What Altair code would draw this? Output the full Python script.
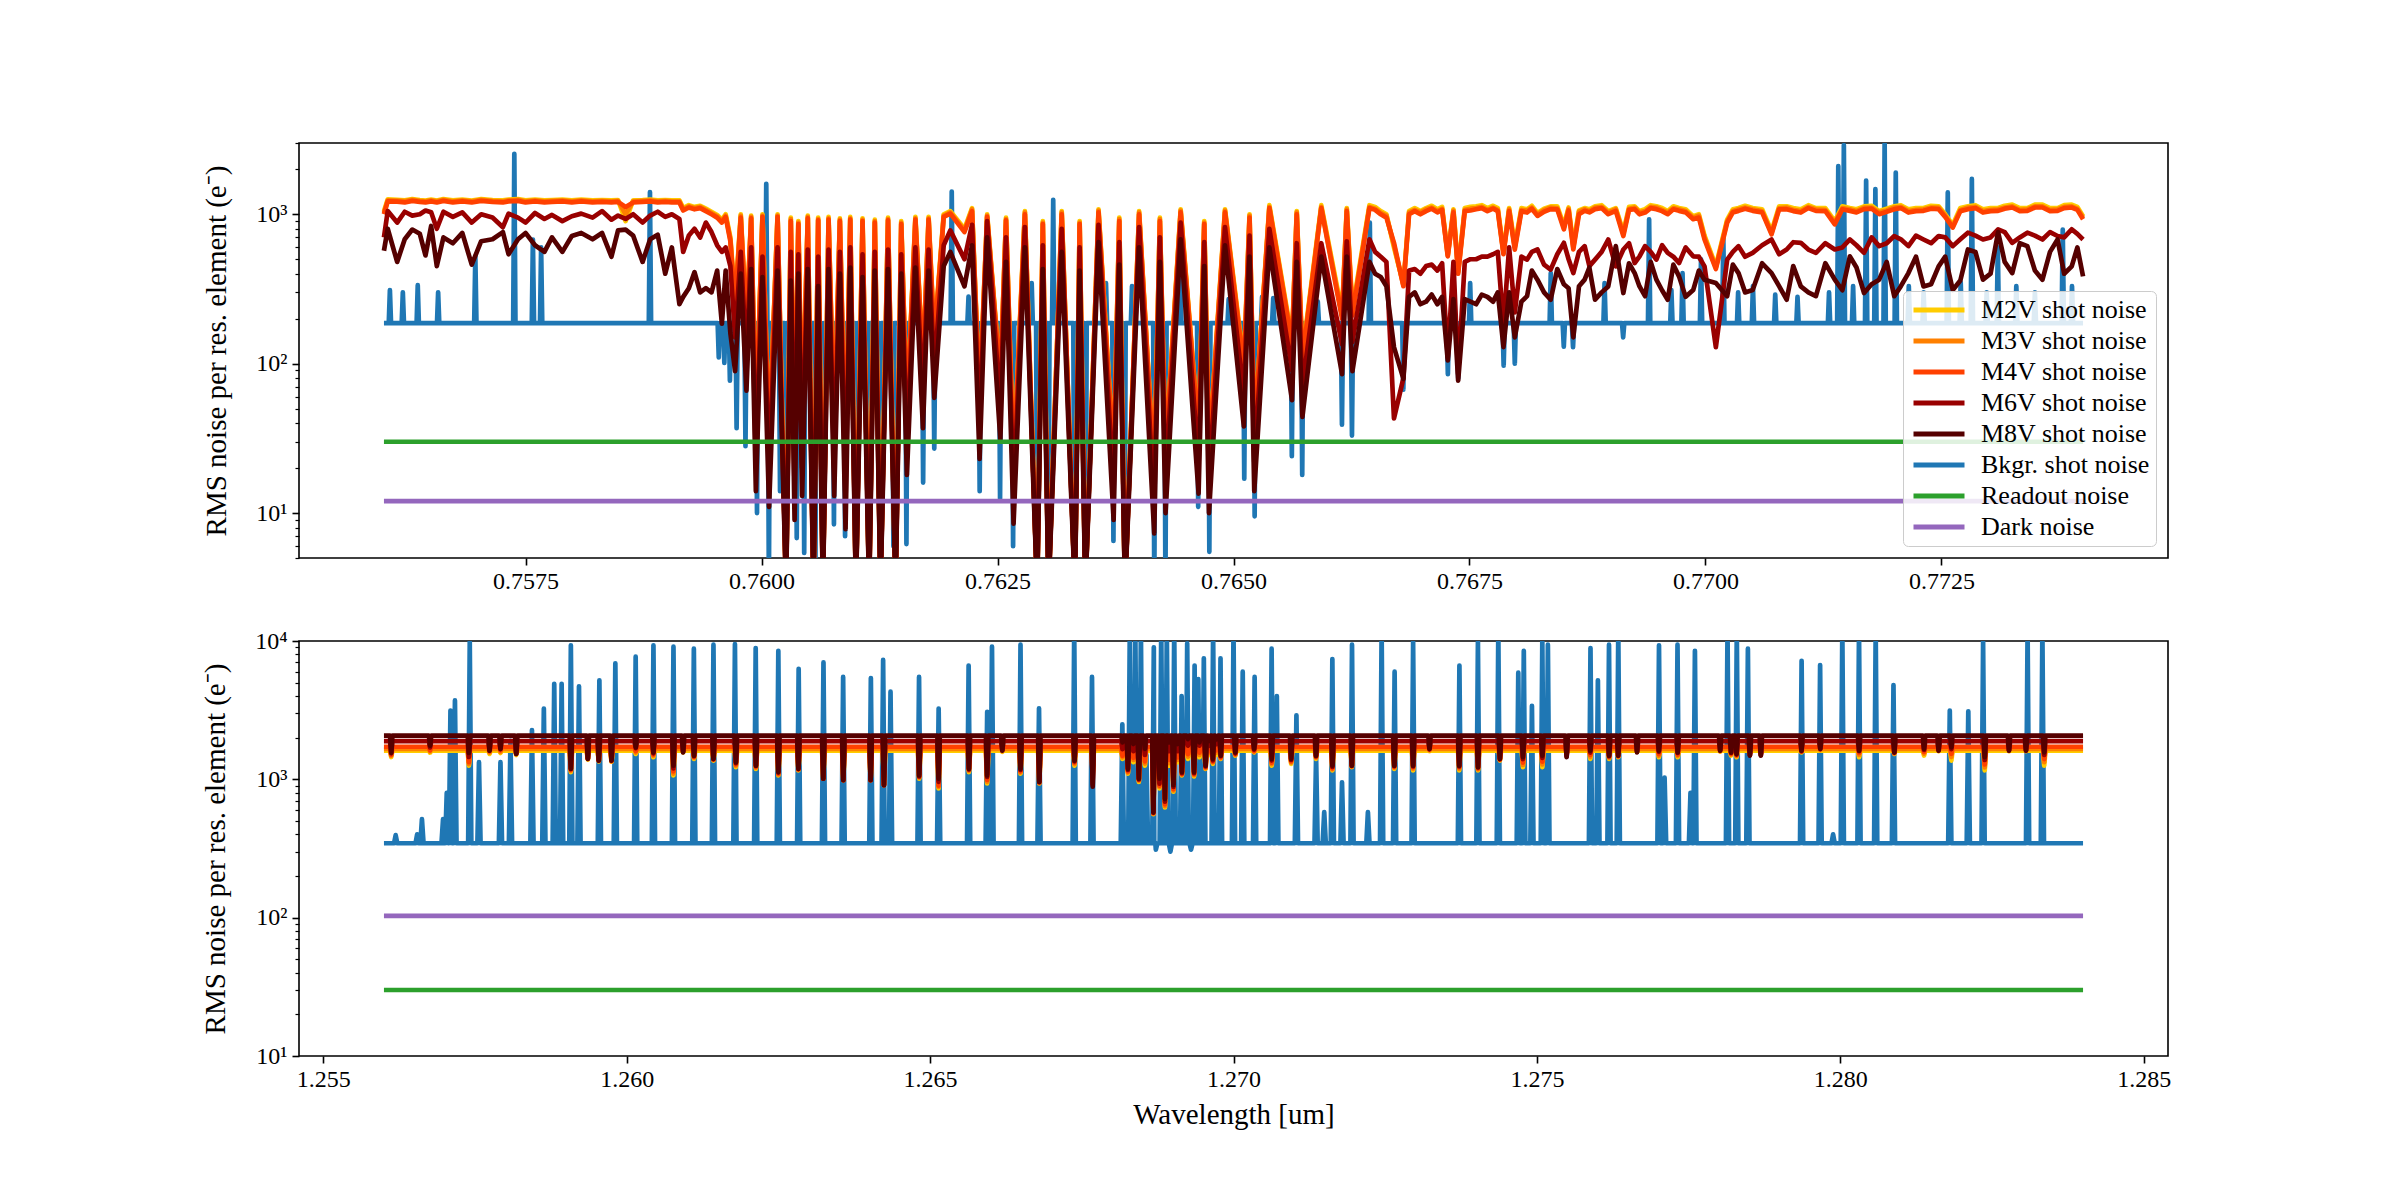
import altair as alt
import pandas as pd

FONT = "Liberation Serif"

SERIES = ["M2V shot noise", "M3V shot noise", "M4V shot noise", "M6V shot noise",
          "M8V shot noise", "Bkgr. shot noise", "Readout noise", "Dark noise"]
COLORS = ["#ffcc00", "#ff8000", "#ff4000", "#990000", "#550000",
          "#1f77b4", "#2ca02c", "#9467bd"]

# ---------------- top panel (0.756 - 0.774 um) ----------------
top_wl = [0.75600, 0.75604, 0.75614, 0.75622, 0.75630, 0.75638, 0.75644, 0.75650, 0.75656, 0.75663,
          0.75673, 0.75683, 0.75693, 0.75703, 0.75715, 0.75726, 0.75732, 0.75742, 0.75750, 0.75760,
          0.75770, 0.75778, 0.75789, 0.75799, 0.75809, 0.75821, 0.75831, 0.75841, 0.75848, 0.75856,
          0.75864, 0.75874, 0.75882, 0.75890, 0.75898, 0.75905, 0.75913, 0.75917, 0.75923, 0.75929,
          0.75935, 0.75941, 0.75947, 0.75953,
          0.75958, 0.75962, 0.75967, 0.75972, 0.75978, 0.75984, 0.75989, 0.75994, 0.76001, 0.76008,
          0.76017, 0.76026, 0.76031, 0.76035, 0.76039, 0.76043, 0.76049, 0.76055, 0.76060, 0.76065,
          0.76071, 0.76077, 0.76083, 0.76089, 0.76094, 0.76100, 0.76107, 0.76114, 0.76120, 0.76126,
          0.76134, 0.76142, 0.76148, 0.76154, 0.76163, 0.76171, 0.76177, 0.76183, 0.76193,
          0.76200, 0.76215, 0.76223, 0.76231, 0.76239, 0.76253, 0.76259, 0.76267, 0.76279, 0.76292,
          0.76298, 0.76304, 0.76318, 0.76332, 0.76337, 0.76343, 0.76357, 0.76373, 0.76379, 0.76385,
          0.76400, 0.76416, 0.76422, 0.76428, 0.76444, 0.76463, 0.76469, 0.76474, 0.76491, 0.76511,
          0.76517, 0.76522, 0.76538, 0.76562, 0.76567, 0.76573, 0.76593, 0.76615, 0.76620, 0.76626,
          0.76644, 0.76656, 0.76670, 0.76680, 0.76686, 0.76704, 0.76727, 0.76733, 0.76738, 0.76751,
          0.76763, 0.76786, 0.76792, 0.76798,
          0.76811, 0.76822, 0.76836, 0.76850, 0.76855, 0.76860, 0.76866, 0.76872, 0.76883, 0.76897,
          0.76905, 0.76913, 0.76925, 0.76936, 0.76948, 0.76960, 0.76972, 0.76987, 0.76999, 0.77011,
          0.77023, 0.77035, 0.77050, 0.77070, 0.77086, 0.77101, 0.77117, 0.77137, 0.77153, 0.77168,
          0.77184, 0.77200, 0.77215, 0.77231, 0.77247, 0.77262, 0.77278, 0.77294, 0.77310, 0.77325,
          0.77341, 0.77357, 0.77373, 0.77388, 0.77400,
          # additional read points in the red part of the band
          0.76650, 0.76662, 0.76692, 0.76698, 0.76710, 0.76716, 0.76721, 0.76745, 0.76757, 0.76769,
          0.76775, 0.76780, 0.76805,
          0.76816, 0.76829, 0.76843, 0.76877, 0.76890, 0.76919, 0.76930, 0.76942, 0.76954, 0.76966,
          0.76979, 0.76993, 0.77029, 0.77042, 0.77060, 0.77078, 0.77093, 0.77109, 0.77127, 0.77145,
          0.77160, 0.77176, 0.77192, 0.77207, 0.77223, 0.77239, 0.77254, 0.77270, 0.77286, 0.77302,
          0.77317, 0.77333, 0.77349, 0.77365, 0.77380, 0.77394]

top_m2v = [1050, 1260, 1250, 1240, 1265, 1245, 1235, 1255, 1235, 1265,
           1240, 1255, 1235, 1265, 1245, 1240, 1255, 1265, 1240, 1255,
           1240, 1245, 1255, 1240, 1255, 1240, 1245, 1240, 1245, 900,
           1240, 1245, 1255, 1240, 1245, 1240, 1240, 1100, 1150, 1120,
           1140, 1090, 1040, 990,
           920, 1000, 700, 260, 1000, 180, 980, 38, 1000, 30,
           1000, 3, 950, 25, 900, 35, 980, 3, 950, 3,
           960, 35, 940, 21, 960, 3, 940, 3, 920, 3,
           950, 3, 900, 48, 960, 100, 960, 150, 1000,
           1050, 800, 1100, 60, 1000, 80, 950, 22, 1050, 3,
           900, 3, 1050, 3, 900, 3, 1080, 24, 950, 3,
           1050, 19, 950, 26, 1080, 35, 900, 26, 1080, 100,
           1000, 36, 1150, 145, 1050, 115, 1150, 220, 1100, 230,
           1150, 1050, 600, 340, 1050, 1100, 540, 1080, 420, 1120,
           1150, 560, 1100, 620,
           1080, 1020, 1130, 840, 1110, 620, 1060, 1100, 1130, 1050,
           1100, 760, 1130, 1080, 1130, 1050, 1100, 970, 720, 450,
           920, 1100, 1100, 770, 1130, 1080, 1100, 900, 1100, 1130,
           1050, 1130, 1080, 1100, 1130, 850, 1130, 1080, 1100, 1160,
           1100, 1160, 1100, 1160, 970,
           1120, 1000, 1100, 1050, 1140, 1080, 1120, 1100, 1130, 1100,
           1140, 1100, 1100,
           1140, 1090, 1130, 1080, 1150, 1120, 1050, 1150, 1100, 1130,
           1080, 1000, 1080, 1140, 1080, 1130, 1100, 1150, 1100, 1130,
           1080, 1140, 1090, 1150, 1100, 1140, 1000, 1100, 1150, 1100,
           1140, 1100, 1160, 1100, 1150, 1120]

top_m3v = [1020, 1240, 1235, 1225, 1250, 1230, 1220, 1240, 1220, 1250,
           1220, 1240, 1220, 1250, 1230, 1220, 1240, 1250, 1220, 1240,
           1220, 1230, 1240, 1220, 1240, 1220, 1230, 1220, 1230, 1000,
           1220, 1230, 1240, 1220, 1230, 1220, 1220, 1080, 1130, 1100,
           1120, 1070, 1020, 970,
           900, 980, 680, 250, 980, 175, 960, 37, 980, 29,
           980, 3, 930, 24, 880, 34, 960, 3, 930, 3,
           940, 34, 920, 20, 940, 3, 920, 3, 900, 3,
           930, 3, 880, 46, 940, 96, 940, 145, 980,
           1030, 780, 1080, 58, 980, 78, 930, 21, 1030, 3,
           880, 3, 1030, 3, 880, 3, 1060, 23, 930, 3,
           1030, 18, 930, 25, 1060, 34, 880, 25, 1060, 96,
           980, 35, 1120, 140, 1030, 110, 1120, 210, 1080, 220,
           1120, 1020, 620, 335, 1030, 1080, 530, 1060, 410, 1090,
           1120, 550, 1080, 600,
           1060, 1000, 1110, 820, 1090, 600, 1040, 1080, 1110, 1030,
           1080, 740, 1110, 1050, 1110, 1030, 1080, 950, 700, 440,
           900, 1080, 1080, 750, 1110, 1050, 1080, 880, 1080, 1110,
           1030, 1110, 1050, 1080, 1110, 830, 1110, 1050, 1080, 1130,
           1080, 1130, 1080, 1130, 950,
           1090, 980, 1070, 1030, 1110, 1050, 1090, 1070, 1100, 1070,
           1110, 1070, 1070,
           1110, 1070, 1100, 1050, 1120, 1090, 1030, 1120, 1070, 1100,
           1050, 980, 1050, 1110, 1050, 1100, 1070, 1120, 1070, 1100,
           1050, 1110, 1060, 1120, 1070, 1110, 980, 1070, 1120, 1070,
           1110, 1070, 1130, 1070, 1120, 1090]

top_m4v = [1000, 1220, 1215, 1200, 1230, 1210, 1200, 1220, 1200, 1230,
           1200, 1220, 1200, 1230, 1210, 1200, 1220, 1230, 1200, 1220,
           1200, 1210, 1220, 1200, 1220, 1200, 1210, 1200, 1210, 1120,
           1200, 1210, 1220, 1200, 1210, 1200, 1200, 1060, 1110, 1080,
           1100, 1050, 1000, 950,
           880, 960, 660, 240, 950, 170, 940, 36, 960, 28,
           960, 3, 900, 23, 860, 33, 940, 3, 910, 3,
           920, 33, 900, 20, 920, 3, 900, 3, 880, 3,
           910, 3, 860, 45, 920, 92, 920, 140, 960,
           1010, 760, 1050, 56, 960, 76, 910, 20, 1000, 3,
           860, 3, 1000, 3, 860, 3, 1030, 22, 900, 3,
           1000, 18, 900, 24, 1030, 33, 860, 24, 1030, 92,
           950, 34, 1100, 135, 1000, 106, 1100, 200, 1050, 210,
           1100, 1000, 644, 330, 1000, 1050, 523, 1030, 400, 1060,
           1100, 540, 1050, 580,
           1027, 975, 1082, 793, 1060, 581, 1000, 1054, 1082, 1001,
           1054, 715, 1082, 1027, 1082, 1001, 1054, 926, 678, 430,
           879, 1054, 1054, 734, 1082, 1027, 1054, 857, 1054, 1082,
           1001, 1082, 1027, 1054, 1082, 814, 1082, 1027, 1054, 1110,
           1054, 1110, 1054, 1110, 926,
           1070, 950, 1050, 1000, 1090, 1030, 1070, 1050, 1080, 1050,
           1090, 1050, 1050,
           1090, 1040, 1080, 1030, 1100, 1070, 1000, 1100, 1050, 1080,
           1030, 950, 1030, 1090, 1030, 1080, 1050, 1100, 1050, 1080,
           1030, 1090, 1040, 1100, 1050, 1090, 960, 1050, 1100, 1050,
           1090, 1050, 1110, 1050, 1100, 1070]

top_m6v = [700, 1050, 880, 1040, 980, 1000, 1060, 1030, 800, 1040,
           960, 1030, 880, 1000, 950, 820, 1010, 950, 880, 1020,
           930, 990, 900, 970, 1010, 950, 1050, 920, 980, 930,
           1000, 880, 980, 1040, 960, 1000, 930, 560, 720, 800,
           700, 880, 760, 620,
           560, 600, 450, 150, 560, 105, 600, 22, 520, 18,
           600, 3, 560, 14, 540, 20, 580, 3, 520, 3,
           580, 20, 560, 12, 600, 3, 540, 3, 560, 3,
           580, 3, 540, 28, 600, 60, 580, 90, 620,
           780, 500, 850, 36, 900, 50, 700, 13, 820, 3,
           620, 3, 800, 3, 600, 3, 850, 14, 650, 3,
           820, 11, 700, 16, 880, 21, 650, 16, 820, 60,
           720, 22, 800, 90, 640, 70, 640, 135, 660, 140,
           680, 520, 43, 80, 420, 450, 110, 480, 85, 500,
           520, 180, 600, 220,
           497, 581, 426, 644, 500, 404, 560, 612, 497, 678,
           448, 581, 472, 612, 497, 552, 472, 523, 448, 129,
           497, 612, 552, 678, 581, 644, 552, 581, 678, 552,
           612, 715, 612, 678, 715, 612, 753, 678, 793, 644,
           753, 678, 715, 793, 678,
           560, 480, 430, 400, 460, 420, 470, 480, 500, 520,
           540, 560, 520,
           560, 460, 540, 450, 560, 640, 520, 560, 620, 520,
           600, 520, 560, 520, 620, 540, 650, 580, 640, 600,
           620, 700, 640, 680, 720, 640, 700, 680, 720, 700,
           760, 700, 720, 760, 700, 740]

top_m8v = [570, 800, 480, 680, 790, 740, 530, 835, 450, 700,
           640, 750, 460, 660, 680, 760, 540, 680, 750, 620,
           560, 700, 560, 715, 750, 680, 750, 520, 780, 790,
           720, 480, 680, 730, 400, 600, 250, 280, 320, 410,
           300, 320, 300, 420,
           185, 420, 160, 89, 400, 66, 430, 14, 380, 11,
           420, 3, 360, 9, 400, 13, 430, 3, 330, 3,
           430, 13, 400, 7.8, 440, 3, 380, 3, 420, 3,
           430, 3, 400, 18, 440, 37, 420, 59, 450,
           560, 329, 620, 23, 700, 31, 480, 8.5, 600, 3,
           430, 3, 560, 3, 420, 3, 650, 9, 460, 3,
           600, 7.3, 480, 10, 680, 13.5, 450, 10, 620, 38,
           520, 14, 600, 57, 480, 44, 520, 85, 520, 89,
           480, 380, 129, 79, 280, 260, 105, 270, 77, 260,
           290, 129, 300, 150,
           283, 365, 268, 340, 320, 150, 330, 365, 268, 329,
           612, 297, 404, 283, 365, 268, 384, 311, 365, 347,
           283, 404, 311, 404, 268, 329, 283, 365, 523, 297,
           365, 283, 404, 329, 448, 311, 581, 365, 760, 404,
           612, 365, 678, 448, 384,
           400, 330, 300, 250, 290, 250, 280, 270, 250, 280,
           260, 300, 260,
           420, 300, 430, 440, 300, 470, 330, 480, 310, 460,
           280, 420, 460, 300, 470, 330, 450, 300, 470, 310,
           440, 340, 480, 330, 520, 340, 520, 360, 560, 400,
           480, 640, 420, 560, 400, 600]

# background: flat level with narrow emission spikes / absorption dips
top_bkg_level = 187
top_bkg_wl = [0.756063, 0.756200, 0.756358, 0.756574, 0.756968, 0.757381, 0.757578, 0.757665, 0.758818,
              0.759547, 0.759606, 0.759665, 0.759736, 0.759830, 0.759952, 0.760050, 0.760078, 0.760196,
              0.760255, 0.760373, 0.760452, 0.760570, 0.760649, 0.760767, 0.760885, 0.761003, 0.761141,
              0.761259, 0.761397, 0.761535, 0.761653, 0.761712, 0.761830,
              0.762015, 0.762193, 0.762311, 0.762527, 0.762665, 0.762862, 0.762921, 0.763039, 0.763090,
              0.763315, 0.763433, 0.763649, 0.763728, 0.763846, 0.763925, 0.764161, 0.764279, 0.764437,
              0.764626, 0.764744, 0.764949, 0.765114, 0.765224, 0.765303, 0.765421, 0.765618, 0.765728,
              0.765893, 0.766149, 0.766255, 0.766444, 0.766799, 0.767271, 0.767381, 0.767507, 0.767862,
              0.767980,
              0.768361, 0.768499, 0.768597, 0.768931, 0.769128, 0.769403, 0.769639, 0.769757, 0.769953,
              0.770189, 0.770346, 0.770503, 0.770739, 0.770975, 0.771309, 0.771407, 0.771466, 0.771564,
              0.771702, 0.771800, 0.771898, 0.772016, 0.772154, 0.772311, 0.772567, 0.772704, 0.772822,
              0.772979, 0.773097, 0.773293, 0.773490, 0.773785, 0.773883]
top_bkg = [311, 300, 335, 300, 523, 2540, 678, 600, 1408,
           110, 101, 77, 37, 28, 10, 1600, 3, 14,
           3, 6.8, 5.4, 3, 3, 8.4, 7, 3, 3,
           3, 6, 6.2, 268, 16, 27,
           1420, 281, 14, 12.5, 6, 346, 3, 3, 1250,
           3, 3, 346, 6.5, 3, 330, 3, 3, 380,
           11, 5.5, 270, 17, 9.5, 280, 275, 24, 18,
           260, 39, 33, 880, 67, 85, 80, 346, 97,
           100,
           404, 130, 129, 346, 150, 925, 311, 404, 500,
           700, 300, 330, 290, 280, 300, 2100, 2900, 330,
           1680, 1475, 3100, 1900, 330, 300, 1400, 350, 1725,
           300, 600, 330, 300, 790, 330]
top_readout = 30
top_dark = 12

# ---------------- bottom panel (1.256 - 1.284 um) ----------------
bot_start, bot_end = 1.25600, 1.28400
# continuum level of each star, and narrow absorption dips (shared positions)
bot_m2v_level = 1610
bot_m3v_level = 1660
bot_m4v_level = 1720
bot_m6v_level = 1890
bot_m8v_level = 2070

bot_dip_wl = [1.25612, 1.25676, 1.25740, 1.25774, 1.25792, 1.25818, 1.25908, 1.25936, 1.25954, 1.25975,
              1.26015, 1.26044, 1.26077, 1.26093, 1.26111, 1.26143, 1.26180, 1.26213, 1.26250, 1.26283,
              1.26324, 1.26357, 1.26402, 1.26424, 1.26482, 1.26514, 1.26564, 1.26594, 1.26619, 1.26649,
              1.26680, 1.26738, 1.26768, 1.26817, 1.26826, 1.26835, 1.26844, 1.26854, 1.26868, 1.26878,
              1.26887, 1.26894, 1.26901, 1.26908, 1.26915, 1.26925, 1.26935, 1.26944, 1.26954, 1.26960,
              1.26966, 1.26972, 1.26979, 1.27003, 1.27034, 1.27063, 1.27095, 1.27136, 1.27163, 1.27195,
              1.27265, 1.27296, 1.27323, 1.27372, 1.27403, 1.27439, 1.27477, 1.27509, 1.27549, 1.27588,
              1.27619, 1.27634, 1.27665, 1.27701, 1.27732, 1.27802, 1.27820, 1.27829, 1.27851, 1.27869,
              1.27936, 1.27967, 1.28031, 1.28089, 1.28138, 1.28162, 1.28183, 1.28238, 1.28278, 1.28306,
              1.28336]

bot_m2v_dips = [1450, 1560, 1256, 1526, 1550, 1500, 1129, 1390, 1350, 1340,
                1526, 1445, 1068, 1568, 1405, 1367, 1225, 1192, 1068, 1160,
                1012, 985, 985, 908, 1012, 860, 1129, 933, 1580, 1098,
                933, 1256, 1129, 1405, 1098, 1331, 959, 1256, 560, 860,
                626, 1256, 814, 1331, 1068, 1405, 1050, 1445, 1192, 1500,
                1295, 1500, 1405, 1485, 1568, 1256, 1295, 1405, 1160, 1225,
                1192, 1160, 1600, 1160, 1160, 1367, 1225, 1225, 1568, 1405,
                1405, 1445, 1580, 1445, 1445, 1590, 1485, 1445, 1540, 1540,
                1568, 1612, 1445, 1526, 1485, 1600, 1367, 1160, 1600, 1600,
                1256]

bot_m3v_dips = [1480, 1590, 1290, 1560, 1580, 1520, 1150, 1400, 1360, 1350,
                1560, 1480, 1100, 1580, 1430, 1380, 1250, 1210, 1080, 1170,
                1012, 985, 985, 908, 1030, 880, 1150, 960, 1600, 1120,
                940, 1290, 1080, 1440, 1120, 1380, 980, 1300, 565, 880,
                640, 1310, 830, 1380, 1080, 1460, 1070, 1500, 1200, 1550,
                1320, 1560, 1420, 1500, 1580, 1290, 1320, 1430, 1180, 1235,
                1210, 1190, 1620, 1190, 1180, 1380, 1270, 1280, 1540, 1450,
                1430, 1460, 1590, 1480, 1480, 1600, 1510, 1470, 1530, 1530,
                1580, 1630, 1500, 1540, 1530, 1610, 1450, 1220, 1610, 1610,
                1330]

bot_m4v_dips = [1500, 1620, 1330, 1590, 1620, 1540, 1170, 1410, 1370, 1360,
                1600, 1510, 1140, 1590, 1450, 1390, 1280, 1230, 1100, 1180,
                1012, 985, 985, 908, 1040, 900, 1170, 990, 1620, 1140,
                950, 1320, 1000, 1480, 1140, 1430, 990, 1350, 570, 900,
                660, 1380, 850, 1440, 1090, 1520, 1090, 1560, 1220, 1600,
                1340, 1620, 1440, 1520, 1600, 1320, 1350, 1450, 1200, 1245,
                1230, 1220, 1640, 1220, 1200, 1390, 1320, 1340, 1500, 1500,
                1450, 1470, 1600, 1520, 1510, 1610, 1530, 1490, 1510, 1510,
                1590, 1650, 1550, 1550, 1580, 1620, 1530, 1280, 1620, 1620,
                1400]

bot_m6v_dips = [1540, 1700, 1450, 1610, 1650, 1530, 1190, 1410, 1367, 1370,
                1680, 1540, 1200, 1580, 1470, 1400, 1310, 1250, 1120, 1190,
                1012, 985, 985, 908, 1050, 960, 1180, 1040, 1630, 1170,
                955, 1350, 920, 1650, 1170, 1600, 1000, 1500, 575, 930,
                690, 1600, 880, 1600, 1110, 1750, 1110, 1750, 1240, 1750,
                1370, 1800, 1470, 1540, 1640, 1370, 1380, 1470, 1230, 1250,
                1245, 1240, 1650, 1240, 1220, 1400, 1400, 1430, 1470, 1560,
                1470, 1480, 1590, 1580, 1550, 1615, 1550, 1510, 1495, 1495,
                1600, 1660, 1600, 1560, 1630, 1620, 1650, 1380, 1620, 1620,
                1500]

bot_m8v_dips = [1560, 1753, 1550, 1612, 1660, 1526, 1192, 1405, 1367, 1367,
                1704, 1568, 1256, 1568, 1485, 1405, 1331, 1256, 1129, 1192,
                1012, 985, 985, 908, 1068, 1012, 1192, 1068, 1612, 1192,
                959, 1367, 884, 1850, 1192, 1800, 1012, 1660, 576, 1012,
                720, 1850, 908, 1800, 1129, 1958, 1129, 1850, 1256, 1900,
                1405, 1950, 1485, 1568, 1660, 1405, 1405, 1485, 1256, 1256,
                1256, 1256, 1660, 1256, 1225, 1405, 1445, 1485, 1445, 1612,
                1485, 1485, 1568, 1612, 1568, 1612, 1568, 1526, 1485, 1485,
                1612, 1660, 1612, 1568, 1660, 1612, 1704, 1445, 1612, 1612,
                1568]

bot_bkg_level = 345
bot_bkg_wl = [1.256193, 1.256547, 1.256626, 1.256974, 1.257035, 1.257096, 1.257170, 1.257414, 1.257566,
              1.257920, 1.258085, 1.258439, 1.258635, 1.258806, 1.258928, 1.259080, 1.259214, 1.259550,
              1.259813, 1.260148, 1.260441, 1.260771, 1.261107, 1.261430, 1.261784, 1.262126, 1.262499,
              1.262834, 1.263243, 1.263567, 1.264024, 1.264226, 1.264348, 1.264818, 1.265141,
              1.265635, 1.265941, 1.266020, 1.266490, 1.266795, 1.267375, 1.267668, 1.268168, 1.268291,
              1.268382, 1.268474, 1.268565, 1.268687, 1.268720, 1.268809, 1.268901, 1.268960, 1.269023,
              1.269145, 1.269237, 1.269300, 1.269359, 1.269420, 1.269511, 1.269664, 1.269786, 1.270000,
              1.270152, 1.270348, 1.270628, 1.270714, 1.271037, 1.271361, 1.271495, 1.271629, 1.271788,
              1.271953, 1.272215, 1.272441, 1.272655, 1.272960, 1.273723, 1.274028, 1.274364,
              1.274693, 1.274784, 1.274918, 1.275089, 1.275181, 1.275883, 1.276005, 1.276188, 1.276341,
              1.277012, 1.277104, 1.277317, 1.277531, 1.277604, 1.278141, 1.278294, 1.278477, 1.279362,
              1.279667, 1.279881, 1.280033, 1.280308, 1.280583, 1.280876, 1.281804, 1.282109, 1.282353,
              1.283086, 1.283330]
bot_bkg = [395, 400, 515, 515, 800, 3140, 3720, 9840, 1330,
           1330, 1900, 2270, 3250, 4900, 4900, 9300, 4700, 5200,
           6900, 7700, 9300, 9100, 8800, 9400, 9500, 8900, 8500,
           6300, 7000, 5500, 5400, 7300, 4300, 5500, 3250,
           6650, 3080, 9100, 9400, 3260, 12000, 5500, 2500, 12000,
           12000, 12000, 1500, 9000, 310, 12000, 12000, 300, 12000,
           4000, 9600, 310, 6650, 5300, 7500, 12000, 7500, 12000,
           6000, 5500, 8800, 4000, 2900, 1480, 580, 7400, 950,
           9400, 580, 12000, 6000, 9800, 6650, 9800, 12000,
           5900, 8500, 3400, 9840, 9400, 8900, 5200, 9400, 12000,
           9300, 1030, 9400, 800, 8500, 12000, 12000, 8800, 7200,
           6700, 400, 12000, 12000, 12000, 4800, 3140, 3100, 9840,
           12000, 12000]
bot_readout = 30
bot_dark = 103


def spectrum_rows(xs, ys, name):
    n = min(len(xs), len(ys))
    return [{"wl": xs[i], "value": ys[i], "series": name} for i in range(n)]


def feature_rows(xs, ys, level, half_width, x0, x1, name):
    """A flat level with narrow features (spikes or dips) at the read positions."""
    rows = [{"wl": x0, "value": level, "series": name}]
    n = min(len(xs), len(ys))
    for i in range(n):
        rows.append({"wl": xs[i] - half_width, "value": level, "series": name})
        rows.append({"wl": xs[i], "value": ys[i], "series": name})
        rows.append({"wl": xs[i] + half_width, "value": level, "series": name})
    rows.append({"wl": x1, "value": level, "series": name})
    return rows


def flat_rows(x0, x1, level, name):
    return spectrum_rows([x0, x1], [level, level], name)


top_start, top_end = 0.75600, 0.77400

# top panel table
top_rows = []
for name, vals in zip(SERIES[:5], [top_m2v, top_m3v, top_m4v, top_m6v, top_m8v]):
    top_rows += spectrum_rows(top_wl, vals, name)
top_rows += feature_rows(top_bkg_wl, top_bkg, top_bkg_level, 0.000012, top_start, top_end, SERIES[5])
top_rows += flat_rows(top_start, top_end, top_readout, SERIES[6])
top_rows += flat_rows(top_start, top_end, top_dark, SERIES[7])
top_df = pd.DataFrame(top_rows)

# bottom panel table
bot_rows = []
for name, level, dips in zip(SERIES[:5],
                             [bot_m2v_level, bot_m3v_level, bot_m4v_level, bot_m6v_level, bot_m8v_level],
                             [bot_m2v_dips, bot_m3v_dips, bot_m4v_dips, bot_m6v_dips, bot_m8v_dips]):
    bot_rows += feature_rows(bot_dip_wl, dips, level, 0.00002, bot_start, bot_end, name)
bot_rows += feature_rows(bot_bkg_wl, bot_bkg, bot_bkg_level, 0.000026, bot_start, bot_end, SERIES[5])
bot_rows += flat_rows(bot_start, bot_end, bot_readout, SERIES[6])
bot_rows += flat_rows(bot_start, bot_end, bot_dark, SERIES[7])
bot_df = pd.DataFrame(bot_rows)

DRAW_ORDER = [5, 0, 1, 2, 3, 4, 6, 7]
MAJOR_TEST = "datum.value == 10 || datum.value == 100 || datum.value == 1000 || datum.value == 10000"
LABEL_EXPR = ("datum.value == 10 ? '10\u00b9' : datum.value == 100 ? '10\u00b2' : "
              "datum.value == 1000 ? '10\u00b3' : datum.value == 10000 ? '10\u2074' : ''")


def panel(df, xdom, xticks, xfmt, xtitle, ydom, yticks, show_legend):
    x = alt.X("wl:Q", scale=alt.Scale(domain=xdom, nice=False, zero=False),
              axis=alt.Axis(title=xtitle, values=xticks, format=xfmt,
                            labelPadding=4, titlePadding=9))
    y = alt.Y("value:Q",
              scale=alt.Scale(type="log", domain=ydom, nice=False),
              axis=alt.Axis(values=yticks, labelExpr=LABEL_EXPR,
                            title="RMS noise per res. element (e\u207b)",
                            titlePadding=24, labelPadding=5,
                            tickSize={"condition": {"test": MAJOR_TEST, "value": 7}, "value": 4},
                            tickWidth={"condition": {"test": MAJOR_TEST, "value": 1.6}, "value": 1.2}))
    scale = alt.Scale(domain=SERIES, range=COLORS)
    if show_legend:
        legend = alt.Legend(title=None, orient="bottom-right", offset=12,
                            symbolType="M-1,0H5", symbolSize=289, symbolStrokeWidth=5,
                            labelFont=FONT, labelFontSize=26, labelColor="black",
                            labelOffset=46, labelLimit=400, rowPadding=5, padding=6,
                            strokeColor="#cccccc", fillColor="rgba(255,255,255,0.85)",
                            cornerRadius=5)
        color = alt.Color("series:N", scale=scale, legend=legend)
    else:
        color = alt.Color("series:N", scale=scale, legend=None)
    layers = []
    for idx in DRAW_ORDER:
        name = SERIES[idx]
        layers.append(
            alt.Chart(df)
            .transform_filter(alt.datum.series == name)
            .mark_line(clip=True, strokeWidth=4.7, strokeJoin="round")
            .encode(x=x, y=y, color=color)
        )
    return alt.layer(*layers).properties(width=1869, height=415)


top_yticks = [5, 6, 7, 8, 9, 10, 20, 30, 40, 50, 60, 70, 80, 90,
              100, 200, 300, 400, 500, 600, 700, 800, 900, 1000, 2000, 3000]
bot_yticks = [10, 20, 30, 40, 50, 60, 70, 80, 90, 100, 200, 300, 400, 500, 600, 700, 800, 900,
              1000, 2000, 3000, 4000, 5000, 6000, 7000, 8000, 9000, 10000]
top_xticks = [0.7575, 0.7600, 0.7625, 0.7650, 0.7675, 0.7700, 0.7725]
bot_xticks = [1.255, 1.260, 1.265, 1.270, 1.275, 1.280, 1.285]

top = panel(top_df, [0.7551, 0.7749], top_xticks, ".4f", None, [5, 3000], top_yticks, True)
bottom = panel(bot_df, [1.2546, 1.2854], bot_xticks, ".3f", "Wavelength [um]",
               [10, 10000], bot_yticks, False)

chart = (
    alt.vconcat(top, bottom, spacing=83)
    .resolve_scale(color="independent")
    .resolve_legend(color="independent")
    .properties(padding={"left": 192, "top": 122, "right": 30, "bottom": 20}, bounds="flush",
                background="white")
    .configure_view(stroke="black", strokeWidth=1.6)
    .configure_axis(labelFont=FONT, titleFont=FONT, labelFontSize=24, titleFontSize=29,
                    titleFontWeight="normal", labelColor="black", titleColor="black",
                    tickColor="black", domain=False, grid=False, labelFlush=False,
                    labelOverlap=False, tickSize=7, tickWidth=1.6)
)

chart.save("out.html", embed_options={"renderer": "svg", "actions": False})
